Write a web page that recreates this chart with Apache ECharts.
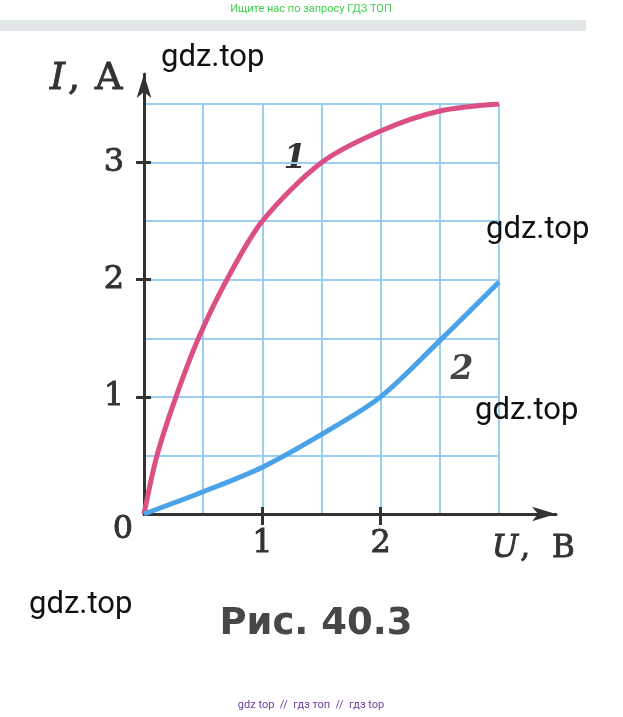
<!DOCTYPE html>
<html>
<head>
<meta charset="utf-8">
<script src="https://cdn.jsdelivr.net/npm/echarts@6/dist/echarts.min.js"></script>
<style>
html, body { margin: 0; padding: 0; background: #fff; }
#chart { width: 623px; height: 717px; }
</style>
</head>
<body>
<div id="chart"></div>
<script>
// кривая 1 (U, B -> I, A)
const u1 = [0, 0.11, 0.27, 0.46, 0.7, 1.0, 1.5, 2.0, 2.5, 3.0]
const i1 = [0, 0.5, 1.0, 1.5, 2.0, 2.5, 3.0, 3.27, 3.44, 3.5]
// кривая 2
const u2 = [0, 0.5, 1.0, 1.5, 2.0, 2.5, 3.0]
const i2 = [0, 0.19, 0.4, 0.68, 1.0, 1.48, 1.98]
// подписи делений
const xTicks = [1, 2]
const yTicks = [1, 2, 3]

const serif = '"DejaVu Serif", "Liberation Serif", serif'
const axisColor = '#333'
const gridColor = '#9acff0'

const chart = echarts.init(document.getElementById('chart'))

const pair = (xs, ys) => xs.map((x, k) => [x, ys[k]])

const plot = { left: 144, top: 104, width: 355, height: 410 }
const tickStyle = { color: axisColor, width: 3 }
const labelStyle = (margin) => ({
  margin: margin, fontFamily: serif, fontSize: 32, color: axisColor,
  textBorderColor: axisColor, textBorderWidth: 0.9
})

// оси только для делений (поверх сетки)
const tickAxisX = (grid, inside, len, labels) => ({
  gridIndex: grid, type: 'value', min: 0, max: 3, interval: 0.5,
  axisLine: { show: false }, splitLine: { show: false },
  axisTick: { show: true, customValues: xTicks, inside: inside, length: len, lineStyle: tickStyle },
  axisLabel: Object.assign({ show: labels, customValues: xTicks }, labelStyle(14))
})
const tickAxisY = (grid, inside, len, labels) => ({
  gridIndex: grid, type: 'value', min: 0, max: 3.5, interval: 0.5,
  axisLine: { show: false }, splitLine: { show: false },
  axisTick: { show: true, customValues: yTicks, inside: inside, length: len, lineStyle: tickStyle },
  axisLabel: Object.assign({ show: labels, customValues: yTicks }, labelStyle(20))
})
const arrowAxis = (grid) => ({
  gridIndex: grid, type: 'value', min: 0, max: 1,
  axisLine: { show: true, symbol: ['none', 'arrow'], symbolSize: [11, 24], lineStyle: { color: axisColor, width: 3 } },
  axisTick: { show: false }, axisLabel: { show: false }, splitLine: { show: false }
})

const wm = (x, y) => ({
  type: 'text', x: x, y: y, z: 100,
  style: { text: 'gdz.top', font: '31px Roboto, sans-serif', fill: '#111', align: 'left', verticalAlign: 'middle' }
})

const letter = (size, extra) => Object.assign({
  fontFamily: serif, fontSize: size, fill: axisColor, stroke: axisColor, lineWidth: 0.9
}, extra)

chart.setOption({
  animation: false,
  backgroundColor: '#fff',
  grid: [
    plot,
    { left: 144, top: 74, width: 412, height: 440 },
    plot,
    plot
  ],
  xAxis: [
    {
      gridIndex: 0, type: 'value', min: 0, max: 3, interval: 0.5,
      axisLine: { show: false }, axisTick: { show: false }, axisLabel: { show: false },
      splitLine: { show: true, lineStyle: { color: gridColor, width: 2 } }
    },
    arrowAxis(1),
    tickAxisX(2, false, 11, true),
    tickAxisX(3, true, 7, false)
  ],
  yAxis: [
    {
      gridIndex: 0, type: 'value', min: 0, max: 3.5, interval: 0.5,
      axisLine: { show: false }, axisTick: { show: false }, axisLabel: { show: false },
      splitLine: { show: true, lineStyle: { color: gridColor, width: 2 } }
    },
    arrowAxis(1),
    tickAxisY(2, false, 8, true),
    tickAxisY(3, true, 7, false)
  ],
  series: [
    {
      type: 'line', xAxisIndex: 0, yAxisIndex: 0, data: pair(u1, i1),
      smooth: 0.3, symbol: 'none', z: 3,
      lineStyle: { color: '#dc4f84', width: 5 }
    },
    {
      type: 'line', xAxisIndex: 0, yAxisIndex: 0, data: pair(u2, i2),
      smooth: 0.3, symbol: 'none', z: 3,
      lineStyle: { color: '#4aa2e8', width: 5 }
    }
  ],
  graphic: [
    // полоса скана сверху
    { type: 'rect', shape: { x: 0, y: 20, width: 586, height: 11 }, style: { fill: '#e2e7ea' }, z: 0 },
    {
      type: 'text', x: 311, y: 9,
      style: { text: 'Ищите нас по запросу ГДЗ ТОП', font: '11px Roboto, sans-serif', fill: '#3fcf4a', align: 'center', verticalAlign: 'middle' }
    },
    {
      type: 'text', x: 311, y: 705,
      style: { text: 'gdz top  //  гдз топ  //  гдз top', font: '11px Roboto, sans-serif', fill: '#6b3fa0', align: 'center', verticalAlign: 'middle' }
    },
    // подписи осей
    {
      type: 'text', x: 50, y: 79,
      style: {
        text: '{i|I}{c|,}{a|A}', align: 'left', verticalAlign: 'middle', fill: axisColor,
        font: '38px ' + serif,
        rich: {
          i: letter(38, { fontStyle: 'italic' }),
          c: letter(38, { padding: [0, 0, 0, 3] }),
          a: letter(38, { padding: [0, 0, 0, 15] })
        }
      }
    },
    {
      type: 'text', x: 492, y: 549,
      style: {
        text: '{i|U}{c|,}{a|B}', align: 'left', verticalAlign: 'middle', fill: axisColor,
        font: '31px ' + serif,
        rich: {
          i: letter(31, { fontStyle: 'italic' }),
          c: letter(31, { padding: [0, 0, 0, 2] }),
          a: letter(31, { padding: [0, 0, 0, 22] })
        }
      }
    },
    {
      type: 'text', x: 123, y: 530,
      style: { text: '0', font: '32px ' + serif, fill: axisColor, stroke: axisColor, lineWidth: 0.9, align: 'center', verticalAlign: 'middle' }
    },
    // номера кривых
    {
      type: 'text', x: 295, y: 159,
      style: { text: '1', font: 'italic bold 33px ' + serif, fill: '#333', align: 'center', verticalAlign: 'middle' }
    },
    {
      type: 'text', x: 462, y: 370,
      style: { text: '2', font: 'italic bold 33px ' + serif, fill: '#444', align: 'center', verticalAlign: 'middle' }
    },
    // подпись рисунка
    {
      type: 'text', x: 316, y: 624,
      style: { text: 'Рис. 40.3', font: 'bold 37px "DejaVu Sans", sans-serif', fill: '#474747', align: 'center', verticalAlign: 'middle' }
    },
    wm(161, 58), wm(486, 230), wm(475, 411), wm(29, 605)
  ]
})
</script>
</body>
</html>
